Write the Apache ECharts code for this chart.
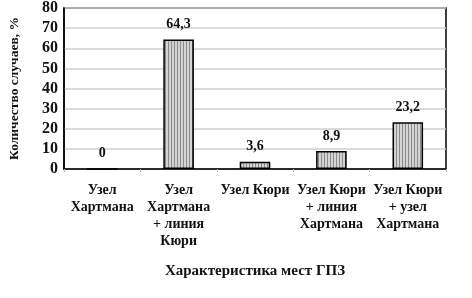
<!DOCTYPE html>
<html><head><meta charset="utf-8">
<script src="https://cdn.jsdelivr.net/npm/echarts@6/dist/echarts.min.js"></script>
<style>html,body{margin:0;padding:0;background:#fff}#c{width:472px;height:298px}</style>
</head><body><div id="c"></div>
<script>
var categories = ['Узел\nХартмана', 'Узел\nХартмана\n+ линия\nКюри', 'Узел Кюри', 'Узел Кюри\n+ линия\nХартмана', 'Узел Кюри\n+ узел\nХартмана'];
var values = [0, 64.3, 3.6, 8.9, 23.2];
var valueLabels = ['0', '64,3', '3,6', '8,9', '23,2'];
var yTicks = [0, 10, 20, 30, 40, 50, 60, 70, 80];

var cv = document.createElement('canvas');
cv.width = 3; cv.height = 4;
var g = cv.getContext('2d');
g.fillStyle = '#d4d4d4'; g.fillRect(0, 0, 3, 4);
g.fillStyle = '#8a8a8a'; g.fillRect(0, 0, 1, 4);

var font = '"Liberation Serif", "Times New Roman", serif';
var chart = echarts.init(document.getElementById('c'), null, {renderer: 'canvas'});
chart.setOption({
  animation: false,
  grid: {left: 55, right: 26, top: 8, bottom: 129, show: true, borderColor: '#000', borderWidth: 1.5, backgroundColor: 'transparent'},
  xAxis: {
    type: 'category', data: categories,
    name: 'Характеристика мест ГПЗ', nameLocation: 'middle', nameGap: 95,
    nameTextStyle: {fontFamily: font, fontWeight: 'bold', fontSize: 15, color: '#111'},
    axisLine: {lineStyle: {color: '#000', width: 1.5}},
    axisTick: {show: true, length: 3, lineStyle: {color: '#bbb'}},
    axisLabel: {fontFamily: font, fontWeight: 'bold', fontSize: 14, color: '#111', lineHeight: 17, margin: 13, interval: 0}
  },
  yAxis: {
    type: 'value', min: 0, max: 80, interval: 10,
    name: 'Количество случаев, %', nameLocation: 'middle', nameGap: 42, nameRotate: 90,
    nameTextStyle: {fontFamily: font, fontWeight: 'bold', fontSize: 13.5, color: '#111'},
    axisLine: {show: true, lineStyle: {color: '#000', width: 1.5}},
    axisTick: {show: false},
    splitLine: {lineStyle: {color: '#cfcfcf', width: 1.5}},
    axisLabel: {fontFamily: font, fontWeight: 'bold', fontSize: 16, color: '#111', margin: 6,
      formatter: function (v) { return yTicks.indexOf(v) >= 0 ? String(v) : ''; }}
  },
  series: [{
    type: 'bar', data: values, barWidth: '40%',
    itemStyle: {color: {image: cv, repeat: 'repeat'}, borderColor: '#000', borderWidth: 1.5},
    label: {show: true, position: 'top', distance: 8, fontFamily: font, fontWeight: 'bold', fontSize: 14, color: '#111',
      formatter: function (p) { return valueLabels[p.dataIndex]; }}
  }]
});
</script></body></html>
